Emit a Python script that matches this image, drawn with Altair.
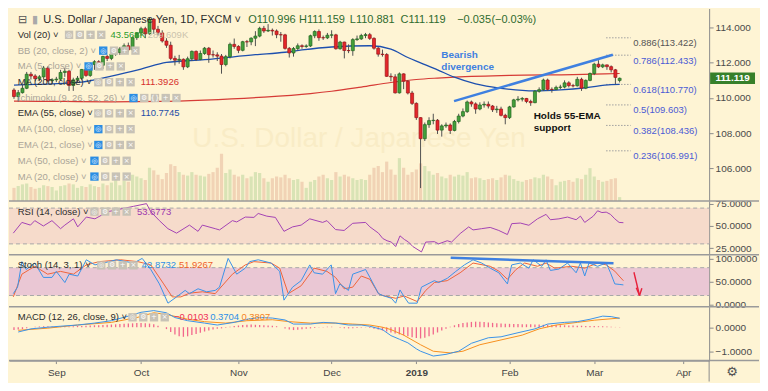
import altair as alt
import pandas as pd

# ------------------------------------------------------------------ data (daily bars, index 0 = 20 Aug 2018)
OPEN = [110.45, 110.08, 110.30, 110.55, 111.35, 111.25, 111.10, 111.20, 111.70, 110.98,
        111.03, 111.07, 111.45, 111.52, 110.71, 111.03, 111.12, 111.62, 111.28, 111.91,
        112.06, 111.86, 112.36, 112.25, 112.50, 112.58, 112.79, 112.97, 112.74, 113.43,
        113.70, 113.94, 113.65, 114.48, 113.91, 113.70, 113.24, 113.00, 112.25, 112.15,
        112.20, 111.77, 112.23, 112.65, 112.19, 112.53, 112.83, 112.46, 112.45, 112.38,
        111.90, 112.35, 113.05, 112.93, 112.71, 113.20, 113.19, 113.40, 113.52, 113.96,
        113.81, 113.85, 113.81, 113.60, 113.59, 112.82, 112.56, 112.81, 112.97, 112.93,
        112.96, 113.54, 113.78, 113.43, 113.42, 113.57, 113.59, 112.80, 113.18, 112.70,
        112.69, 113.32, 113.36, 113.55, 113.60, 113.39, 112.83, 112.49, 112.47, 111.23,
        111.20, 110.29, 111.37, 110.95, 110.28, 109.69, 108.88, 107.68, 108.48, 108.71,
        108.73, 108.17, 108.41, 108.46, 108.15, 108.66, 108.97, 109.22, 109.77, 109.66,
        109.37, 109.60, 109.64, 109.54, 109.33, 109.37, 109.01, 108.88, 109.49, 109.89,
        109.93, 109.97, 109.80, 109.73, 110.38, 110.47, 111.02, 110.49, 110.48, 110.60,
        110.62, 110.86, 110.70, 110.69, 111.06, 110.56, 111.00, 111.39, 111.92, 111.77,
        111.88, 111.78, 111.60, 110.996]
HIGH = [110.55, 110.45, 110.75, 111.48, 111.48, 111.35, 111.30, 111.82, 111.80, 111.12,
        111.20, 111.60, 111.70, 111.60, 111.15, 111.25, 111.65, 111.80, 112.00, 112.15,
        112.15, 112.40, 112.45, 112.60, 112.85, 112.90, 113.10, 113.15, 113.50, 113.75,
        114.05, 114.05, 114.55, 114.55, 114.10, 113.85, 113.40, 113.20, 112.40, 112.45,
        112.25, 112.35, 112.70, 112.70, 112.70, 112.90, 112.90, 112.70, 112.60, 112.50,
        112.45, 113.15, 113.38, 113.00, 113.25, 113.30, 113.45, 113.80, 114.05, 114.10,
        114.20, 113.95, 113.90, 113.75, 113.65, 112.90, 112.90, 113.10, 113.05, 113.05,
        113.60, 113.85, 113.90, 113.55, 113.70, 113.85, 113.65, 113.25, 113.20, 113.05,
        113.40, 113.55, 113.65, 113.70, 113.70, 113.45, 112.90, 112.75, 112.55, 111.40,
        111.35, 111.45, 111.40, 111.00, 110.40, 109.75, 108.90, 108.60, 108.90, 109.10,
        108.80, 108.50, 108.60, 108.55, 108.75, 109.10, 109.40, 109.85, 109.85, 109.75,
        109.75, 109.80, 109.80, 109.60, 109.55, 109.50, 109.10, 109.55, 109.95, 110.10,
        110.05, 110.00, 109.90, 110.45, 110.60, 111.10, 111.10, 110.60, 110.70, 110.75,
        111.00, 110.95, 110.80, 111.20, 111.15, 111.05, 111.45, 112.00, 112.15, 111.95,
        111.90, 111.85, 111.65, 111.159]
LOW = [109.95, 109.80, 110.25, 110.50, 111.05, 110.95, 110.95, 111.05, 110.90, 110.80,
       110.90, 111.00, 111.20, 110.40, 110.40, 110.85, 111.00, 111.20, 111.20, 111.60,
       111.70, 111.65, 112.10, 112.15, 112.40, 112.45, 112.70, 112.60, 112.60, 113.30,
       113.55, 113.40, 113.60, 113.65, 113.55, 113.15, 112.85, 112.15, 111.85, 111.95,
       111.60, 111.70, 112.10, 112.10, 112.15, 112.45, 112.00, 112.30, 112.10, 111.38,
       111.80, 112.25, 112.80, 112.55, 112.65, 112.90, 113.00, 112.95, 113.45, 113.70,
       113.75, 113.55, 113.40, 113.20, 112.75, 112.30, 112.35, 112.70, 112.80, 112.85,
       112.90, 113.40, 113.25, 113.30, 113.35, 113.40, 112.75, 112.75, 112.25, 112.55,
       112.40, 113.25, 113.30, 113.40, 113.30, 112.75, 112.35, 112.35, 111.20, 110.95,
       110.25, 110.25, 110.50, 110.20, 109.60, 108.75, 104.87, 107.55, 108.30, 108.50,
       107.95, 107.80, 108.30, 107.95, 108.10, 108.55, 108.90, 109.15, 109.50, 109.10,
       109.30, 109.45, 109.40, 109.20, 109.15, 108.95, 108.50, 108.80, 109.45, 109.80,
       109.80, 109.70, 109.55, 109.70, 110.30, 110.40, 110.40, 110.30, 110.45, 110.50,
       110.55, 110.60, 110.60, 110.65, 110.40, 110.50, 110.95, 111.30, 111.70, 111.70,
       111.60, 111.45, 110.78, 110.881]
CLOSE = OPEN[1:] + [111.119]
CLOSE[-2] = 111.17

VOLUME_K = [150, 170, 190, 200, 160, 140, 150, 180, 170, 160,
            120, 170, 180, 200, 190, 150, 170, 160, 190, 170,
            160, 200, 180, 210, 260, 180, 230, 220, 300, 280,
            260, 240, 380, 350, 300, 250, 320, 420, 400, 330,
            300, 290, 330, 300, 290, 280, 310, 330, 380, 540,
            320, 360, 300, 280, 300, 260, 280, 330, 320, 260,
            220, 260, 280, 270, 300, 260, 240, 250, 220, 150,
            220, 240, 280, 300, 260, 240, 330, 280, 300, 280,
            260, 240, 250, 240, 300, 380, 400, 330, 450, 360,
            300, 490, 380, 300, 330, 360, 430, 400, 340, 300,
            320, 280, 260, 300, 280, 300, 290, 330, 260, 270,
            260, 240, 250, 260, 240, 270, 300, 290, 250, 230,
            220, 240, 250, 270, 260, 300, 280, 250, 180, 220,
            230, 240, 220, 260, 250, 300, 375, 280, 240, 220,
            230, 250, 260, 44]

MONTH_IDX = [10, 30, 53, 75, 95, 117, 137, 158]
MONTH_LBL = ["Sep", "Oct", "Nov", "Dec", "2019", "Feb", "Mar", "Apr"]

EMA55_IDX = [0, 5, 16, 23, 30, 36, 45, 57, 64, 68, 75, 84, 89, 93, 96, 100, 104, 109, 115, 123, 129, 135, 141, 143]
EMA55_VAL = [110.73, 110.77, 110.90, 111.24, 111.64, 112.02, 112.18, 112.46, 112.60, 112.73, 112.90, 112.97,
             112.78, 112.30, 112.00, 111.60, 111.18, 110.80, 110.55, 110.40, 110.46, 110.58, 110.76, 110.77]
MA200_IDX = [0, 12, 23, 34, 45, 59, 70, 75, 82, 89, 95, 100, 104, 117, 132, 143]
MA200_VAL = [109.82, 109.80, 109.78, 109.80, 109.88, 110.05, 110.25, 110.38, 110.62, 110.88, 111.05,
             111.13, 111.18, 111.28, 111.33, 111.39]

FIB_RATIO = ["0.886", "0.786", "0.618", "0.5", "0.382", "0.236"]
FIB_PRICE = [113.422, 112.433, 110.770, 109.603, 108.436, 106.991]

TREND_IDX = [103.9, 141.4]
TREND_PRICE = [109.82, 112.46]

RSI_IDX = [1, 3, 5, 6, 8, 10, 12, 13, 15, 16, 18, 20, 23, 25, 27, 29, 32, 33, 35, 37, 39, 42, 44, 45, 48,
           49, 52, 53, 55, 57, 58, 60, 62, 64, 66, 68, 70, 73, 74, 76, 78, 80, 83, 84, 86, 87, 88, 89, 90,
           91, 92, 93, 94, 96, 97, 99, 100, 102, 103, 105, 107, 108, 110, 112, 114, 116, 117, 119, 121,
           123, 125, 126, 128, 130, 132, 133, 134, 136, 137, 138, 139, 140, 141, 142, 143]
RSI_VAL = [42, 54, 51, 56, 50, 56, 47, 51, 58, 49, 60, 58, 66, 68, 70, 72, 75, 66, 56, 47, 42, 51, 44, 51, 47,
           45.6, 56, 54.5, 60, 59.6, 64, 61, 59.6, 44, 49, 51, 58, 54, 56, 46, 45, 53, 54, 49, 42, 36, 33.5,
           32, 27, 39, 35, 32, 27, 21, 32, 32.5, 30, 33.5, 32, 41.5, 49, 45.6, 47, 48.4, 45, 40.4, 52.6,
           53.3, 50.8, 58, 63, 57, 58, 60, 57, 61, 54, 61, 67, 65, 65.5, 63, 58, 54, 53.68]

STOCH_K_IDX = [1, 2, 3, 4, 6, 8, 10, 11, 13, 14, 16, 17, 18, 20, 22, 25, 29, 31, 33, 35, 37, 39, 41, 42, 44,
               46, 48, 49, 51, 53, 55, 56, 58, 61, 63, 64, 66, 68, 70, 71, 73, 75, 76, 77, 79, 80, 83, 84,
               86, 87, 89, 90, 91, 92, 93, 95, 96, 99, 100, 102, 104, 106, 108, 110, 112, 114, 116, 117,
               119, 121, 122, 124, 125, 126, 128, 130, 132, 133, 134, 135, 137, 139, 140, 141, 142, 143]
STOCH_K_VAL = [24, 38, 93, 76, 90, 59, 59, 72, 48, 66, 62, 79, 97, 86, 90, 97, 90, 100, 76, 45, 3.5, 17, 31,
               24, 34.5, 28, 31, 38, 100, 66, 79, 93, 97, 90, 72, 10, 38, 52, 86, 69, 66, 86, 24, 45, 31,
               66, 76, 59, 24, 20, 14, 3.5, 32, 17, 3.5, 3.5, 38, 52, 48, 57, 72, 86, 97, 90, 79, 69, 45,
               86, 90, 79, 97, 83, 97, 74, 77, 90, 69, 90, 62, 90, 83, 90, 69, 45, 44, 42.87]
STOCH_D_IDX = [1, 3, 6, 9, 12, 15, 18, 21, 26, 30, 33, 36, 38, 40, 42, 45, 48, 52, 55, 57, 61, 63, 65, 68,
               71, 74, 76, 78, 80, 82, 84, 86, 87, 90, 92, 95, 97, 99, 102, 105, 108, 112, 114, 116, 118,
               120, 123, 125, 127, 131, 134, 137, 139, 141, 142, 143]
STOCH_D_VAL = [17, 66, 83, 66, 72, 66, 86, 93, 97, 93, 86, 45, 17, 17, 25, 28, 24, 66, 86, 93, 90, 79, 24,
               41, 79, 72, 59, 34.5, 38, 62, 55, 24, 20, 14, 19, 7, 31, 48, 52, 69, 90, 83, 72.5, 55, 76,
               90, 83, 90, 79, 83, 79, 90, 86, 72.5, 62, 51.93]
STOCH_TREND_IDX = [102.8, 140.7]
STOCH_TREND_VAL = [101.4, 89.7]

MACD_IDX = [1, 4, 8, 11, 15, 19, 23, 27, 30, 33, 36, 38, 41, 45, 48, 52, 55, 58, 61, 64, 66, 70, 73, 76,
            79, 82, 84, 87, 89, 91, 93, 95, 96, 99, 102, 105, 108, 112, 115, 119, 123, 126, 130, 133,
            136, 139, 141, 143]
MACD_VAL = [-0.2, -0.07, 0.0, 0.04, 0.09, 0.17, 0.27, 0.46, 0.62, 0.69, 0.6, 0.4, 0.27, 0.17, 0.09, 0.2,
            0.33, 0.4, 0.38, 0.3, 0.13, 0.13, 0.2, 0.17, 0.09, 0.09, 0.04, -0.1, -0.35, -0.5, -0.65,
            -0.9, -1.0, -1.2, -1.13, -1.0, -0.67, -0.44, -0.4, -0.23, -0.07, 0.13, 0.2, 0.23, 0.33,
            0.46, 0.44, 0.37]
SIGNAL_IDX = [1, 8, 15, 23, 29, 33, 36, 41, 45, 50, 55, 61, 65, 70, 76, 80, 84, 87, 89, 92, 96, 99, 103,
              106, 110, 115, 120, 124, 128, 133, 137, 143]
SIGNAL_VAL = [-0.13, -0.04, 0.09, 0.2, 0.4, 0.6, 0.53, 0.33, 0.23, 0.17, 0.27, 0.31, 0.23, 0.17, 0.17,
              0.13, 0.09, 0.0, -0.1, -0.33, -0.73, -1.0, -1.07, -1.0, -0.73, -0.53, -0.33, -0.07, 0.09,
              0.2, 0.29, 0.38]
HIST_VAL = [-0.12, -0.10, -0.08, -0.04, 0.0, 0.02, 0.03, 0.04, 0.04, 0.03, 0.03,
            0.03, 0.04, 0.03, 0.04, 0.05, 0.05, 0.06, 0.07, 0.08, 0.08,
            0.09, 0.10, 0.11, 0.12, 0.13, 0.14, 0.15, 0.16, 0.17, 0.17, 0.16, 0.15, 0.12,
            0.06, 0.0, -0.08,
            -0.2, -0.3, -0.38, -0.4, -0.38, -0.33, -0.28, -0.23, -0.18, -0.14, -0.1, -0.07,
            -0.05, -0.02, 0.02, 0.05,
            0.07, 0.09, 0.10, 0.11, 0.10, 0.09, 0.08, 0.07, 0.06, 0.04,
            0.0, -0.05, -0.10, -0.12, -0.11, -0.09, -0.07, -0.05, -0.03, -0.01,
            0.01, 0.02, 0.02, 0.0, -0.02,
            -0.04, -0.05, -0.04, -0.03, -0.02, -0.01,
            -0.03, -0.06, -0.10, -0.14, -0.18, -0.22, -0.26, -0.30, -0.34, -0.38, -0.42, -0.45,
            -0.47, -0.44, -0.38, -0.30, -0.22, -0.14, -0.06,
            0.02, 0.08, 0.13, 0.17, 0.20, 0.22, 0.23, 0.23,
            0.22, 0.20, 0.18, 0.16, 0.15, 0.14, 0.14, 0.13, 0.13, 0.12,
            0.12, 0.12, 0.11, 0.11, 0.10, 0.10, 0.09, 0.09, 0.08, 0.08,
            0.07, 0.07, 0.06, 0.06, 0.05, 0.05, 0.05, 0.04, 0.04, 0.03, 0.02, 0.01, -0.01]

RSI_LEVELS = [70, 30]
STOCH_LEVELS = [80, 20]

# ------------------------------------------------------------------ style / layout
BG = "#fef4d4"
WM_SMALL = "#f9ecc6"
FONT = "Liberation Sans"
UP, DN = "#43a03b", "#e5262a"
UP_EDGE, DN_EDGE = "#23651f", "#98161a"
WICK = "#505050"
VOL_UP, VOL_DN = "#d9e3b5", "#f1d3b5"
EMA_C, MA_C = "#1d4fae", "#d63b36"
RSI_C = "#a443b4"
K_C, D_C = "#3b93e8", "#f0643a"
MACD_C, SIG_C, HIST_C = "#3b93e8", "#f7901f", "#f2668c"
TXT, HID = "#2b2b2b", "#aaa498"
ICON, ICON_ON = "#c7c2b6", "#2b8de3"
SEP = "#9a9a9a"
AX = "#8c8c8c"
TREND_C = "#3f80e0"

W = 702
SX = W / 717.0
XMAX = 717 / 4.4
# pane: (top in reference px, reference height, our height)
PANES = {"p": (0, 201, 193), "r": (202, 56, 54), "s": (258, 54, 52), "m": (312, 56, 54)}
H_P, H_R, H_S, H_M = (PANES[k][2] for k in "prsm")


def px(xr):
    return xr * SX


def py(yr, pane):
    top, rh, h = PANES[pane]
    return (yr - top) * h / rh


xsc = alt.Scale(domain=[0, XMAX], nice=False, zero=False)
XI = alt.X("i:Q", scale=xsc, axis=None)


def yax(values, fmt):
    return alt.Axis(orient="right", values=values, format=fmt, title=None, grid=False,
                    tickSize=4, tickColor=AX, domainColor=AX, labelColor="#4a4a4a",
                    labelFont=FONT, labelFontSize=10, labelPadding=2,
                    labelOverlap=False, labelFlush=False)


def mk_y(dom, values, fmt):
    def f(field):
        return alt.Y(field, scale=alt.Scale(domain=dom, nice=False, zero=False),
                     axis=yax(values, fmt))
    return f


PY = mk_y([104.136, 115.09], [106, 108, 110, 112, 114], ".3f")
RY = mk_y([17.74, 77.96], [25, 50, 75], ".4f")
SY = mk_y([-4.14, 107.66], [0, 50, 100], ".4f")
MY = mk_y([-1.388, 0.852], [-1, 0], ".4f")

lab_expr = " : ".join(f"datum.value == {i} ? '{l}'" for i, l in zip(MONTH_IDX, MONTH_LBL)) + " : ''"
xaxis = alt.Axis(values=MONTH_IDX, labelExpr=lab_expr, title=None, grid=False, orient="bottom",
                 tickSize=3, tickColor=AX, domainColor=SEP, domainWidth=1.5, labelColor="#444444",
                 labelFont=FONT, labelFontSize=10, labelPadding=4, labelOverlap=False,
                 labelFlush=False,
                 labelFontWeight={"condition": {"test": f"datum.value == {MONTH_IDX[4]}",
                                                "value": "bold"}, "value": "normal"})
XM = alt.X("i:Q", scale=xsc, axis=xaxis)


def ui_text(rows, pane, size=9.5, weight="normal"):
    d = pd.DataFrame({"X": [px(r[0]) for r in rows], "Y": [py(r[1], pane) for r in rows],
                      "t": [r[2] for r in rows], "col": [r[3] for r in rows]})
    return alt.Chart(d).mark_text(align="left", baseline="middle", fontSize=size,
                                  fontWeight=weight, font=FONT).encode(
        x=alt.X("X:Q", scale=None, axis=None), y=alt.Y("Y:Q", scale=None, axis=None),
        text="t:N", color=alt.Color("col:N", scale=None, legend=None))


GLYPH4 = ["◎", "⚙", "+", "×"]
GLYPH5 = ["◎", "⚙", "{}", "+", "×"]


def ui_icons(specs, pane):
    rows = []
    for x0, y0, n, hidden in specs:
        g = GLYPH5 if n == 5 else GLYPH4
        for k in range(n):
            rows.append({"X": px(x0 + 4.5 + 11 * k), "Y": py(y0, pane),
                         "col": ICON_ON if (hidden and k == 0) else ICON, "g": g[k]})
    d = pd.DataFrame(rows)
    sq = alt.Chart(d).mark_square(size=70, opacity=1).encode(
        x=alt.X("X:Q", scale=None, axis=None), y=alt.Y("Y:Q", scale=None, axis=None),
        color=alt.Color("col:N", scale=None, legend=None))
    gl = alt.Chart(d).mark_text(fontSize=7, color="white", font="DejaVu Sans",
                                baseline="middle", align="center").encode(
        x=alt.X("X:Q", scale=None, axis=None), y=alt.Y("Y:Q", scale=None, axis=None),
        text="g:N")
    return [sq, gl]


def sep_rule(y):
    return alt.Chart(pd.DataFrame({"a": [0]})).mark_rule(color=SEP, strokeWidth=1.5).encode(
        x=alt.value(0), x2=alt.value(W + 50), y=alt.value(y))


# ------------------------------------------------------------------ price pane
df = pd.DataFrame({"i": list(range(len(CLOSE))), "o": OPEN, "h": HIGH, "l": LOW,
                   "c": CLOSE, "v": VOLUME_K})
up = alt.datum.c >= alt.datum.o

wm2 = alt.Chart(pd.DataFrame({"t": ["U.S. Dollar / Japanese Yen"]})).mark_text(
    fontSize=28, color=WM_SMALL, font=FONT, align="center", baseline="middle").encode(
    x=alt.value(W / 2), y=alt.value(py(136, "p")), text="t:N")

vol = alt.Chart(df).mark_bar(size=3.2).encode(
    x=XI, y=alt.Y("v:Q", scale=alt.Scale(domain=[0, 2200], nice=False), axis=None),
    color=alt.when(up).then(alt.value(VOL_UP)).otherwise(alt.value(VOL_DN)))

fib_df = pd.DataFrame({"p": FIB_PRICE, "x0": 139.8, "x1": 145.6, "xl": 146.2,
                       "t": [f"{r}({p:.3f})" for r, p in zip(FIB_RATIO, FIB_PRICE)],
                       "col": ["#555555" if r == "0.886" else "#4b5bd4" for r in FIB_RATIO]})
fib_rule = alt.Chart(fib_df).mark_rule(color="#a0a0a0", strokeDash=[1.5, 1.5], strokeWidth=1).encode(
    x=alt.X("x0:Q", scale=xsc, axis=None), x2="x1:Q", y=PY("p:Q"))
fib_txt = alt.Chart(fib_df).mark_text(align="left", baseline="middle", dy=5.5, fontSize=9.5,
                                      font=FONT).encode(
    x=alt.X("xl:Q", scale=xsc, axis=None), y=PY("p:Q"), text="t:N",
    color=alt.Color("col:N", scale=None, legend=None))

ma200 = alt.Chart(pd.DataFrame({"i": MA200_IDX, "y": MA200_VAL})).mark_line(
    color=MA_C, strokeWidth=1.2, interpolate="monotone").encode(x=XI, y=PY("y:Q"))
ema55 = alt.Chart(pd.DataFrame({"i": EMA55_IDX, "y": EMA55_VAL})).mark_line(
    color=EMA_C, strokeWidth=1.3, interpolate="monotone").encode(x=XI, y=PY("y:Q"))

wicks = alt.Chart(df).mark_rule(color=WICK, strokeWidth=1).encode(x=XI, y=PY("l:Q"), y2="h:Q")
bodies = alt.Chart(df).mark_bar(size=3, strokeWidth=0.7).encode(
    x=XI, y=PY("o:Q"), y2="c:Q",
    fill=alt.when(up).then(alt.value(UP)).otherwise(alt.value(DN)),
    stroke=alt.when(up).then(alt.value(UP_EDGE)).otherwise(alt.value(DN_EDGE)))

trend = alt.Chart(pd.DataFrame({"i": TREND_IDX, "p": TREND_PRICE})).mark_line(
    color=TREND_C, strokeWidth=2.5).encode(x=XI, y=PY("p:Q"))

bearish = alt.Chart(pd.DataFrame({"i": [100.9, 100.9], "p": [112.42, 111.74],
                                  "t": ["Bearish", "divergence"]})).mark_text(
    align="left", baseline="middle", fontSize=10, fontWeight="bold", color=TREND_C,
    font=FONT).encode(x=XI, y=PY("p:Q"), text="t:N")
holds = alt.Chart(pd.DataFrame({"i": [122.7, 122.7], "p": [108.97, 108.29],
                                "t": ["Holds 55-EMA", "support"]})).mark_text(
    align="left", baseline="middle", fontSize=10, fontWeight="bold", color="#111111",
    font=FONT).encode(x=XI, y=PY("p:Q"), text="t:N")

last = pd.DataFrame({"c": [CLOSE[-1]]})
box = alt.Chart(last).transform_calculate(t="datum.c + 0.33", b="datum.c - 0.33").mark_rect(
    color="#37802a").encode(x=alt.value(W + 1), x2=alt.value(W + 46), y=PY("t:Q"), y2="b:Q")
boxt = alt.Chart(last).mark_text(color="white", fontSize=10, fontWeight="bold", font=FONT,
                                 align="center", baseline="middle").encode(
    x=alt.value(W + 23.5), y=PY("c:Q"), text=alt.Text("c:Q", format=".3f"))

price_main = alt.layer(fib_rule, fib_txt, ma200, ema55, wicks, bodies, trend, bearish, holds,
                       box, boxt)

title_rows = [(35, 12, "U.S. Dollar / Japanese Yen, 1D, FXCM ˅", TXT)]
ohlc_rows = [(245, 12, "O110.996", "#2e6b2e"), (297, 12, "H111.159", "#2e6b2e"),
             (349, 12, "L110.881", "#2e6b2e"), (401, 12, "C111.119", "#2e6b2e"),
             (459, 12, "−0.035", "#2e6b2e"), (494, 12, "(−0.03%)", "#2e6b2e")]
glyph_rows = [(9, 12, "⊟", "#555555"), (24, 12, "▮", "#a9a9a9")]
leg_rows = [
    (9, 27.5, "Vol (20) ˅", TXT), (104, 27.5, "43.568K", "#2e9c2e"),
    (142, 27.5, "289.609K", "#cbc3ad"),
    (9, 44, "BB (20, close, 2) ˅", HID),
    (9, 60.5, "MA (5, close) ˅", HID),
    (9, 77, "MA (200, close) ˅", TXT), (135, 77, "111.3926", "#d6312c"),
    (9, 93.5, "Ichimoku (9, 26, 52, 26) ˅", HID),
    (9, 109.5, "EMA (55, close) ˅", TXT), (135, 109.5, "110.7745", "#1f4ea8"),
    (9, 126, "MA (100, close) ˅", HID),
    (9, 142.5, "EMA (21, close) ˅", HID),
    (9, 159, "MA (50, close) ˅", HID),
    (9, 175.5, "MA (20, close) ˅", HID),
]
icon_p = [(57, 27.5, 4, False), (92, 44, 4, True), (77, 60.5, 4, True), (87, 77, 4, False),
          (123, 93.5, 5, True), (87, 109.5, 4, False), (87, 126, 4, True), (87, 142.5, 4, True),
          (83, 159, 4, True), (83, 175.5, 4, True)]

price = alt.layer(
    wm2, vol, price_main,
    ui_text(title_rows, "p", size=11), ui_text(ohlc_rows, "p", size=11),
    ui_text(glyph_rows, "p", size=11), ui_text(leg_rows, "p"), *ui_icons(icon_p, "p"),
).resolve_scale(y="independent").properties(width=W, height=H_P)

# ------------------------------------------------------------------ RSI pane
rsi_band = alt.Chart(pd.DataFrame({"hi": [RSI_LEVELS[0]], "lo": [RSI_LEVELS[1]]})).mark_rect(
    color="#f6dbcb").encode(x=alt.value(0), x2=alt.value(W), y=RY("hi:Q"), y2="lo:Q")
rsi_lv = alt.Chart(pd.DataFrame({"y": RSI_LEVELS})).mark_rule(
    color="#a8a8a8", strokeDash=[4, 3]).encode(x=alt.value(0), x2=alt.value(W), y=RY("y:Q"))
rsi_line = alt.Chart(pd.DataFrame({"i": RSI_IDX, "y": RSI_VAL})).mark_line(
    color=RSI_C, strokeWidth=1).encode(x=XI, y=RY("y:Q"))
rsi = alt.layer(
    rsi_band, rsi_lv, rsi_line, sep_rule(0),
    ui_text([(9, 213, "RSI (14, close) ˅", TXT), (131, 213, "53.6773", "#9c36ad")], "r"),
    *ui_icons([(83, 213, 4, False)], "r"),
).properties(width=W, height=H_R)

# ------------------------------------------------------------------ Stoch pane
st_band = alt.Chart(pd.DataFrame({"hi": [STOCH_LEVELS[0]], "lo": [STOCH_LEVELS[1]]})).mark_rect(
    color="#eac7d4").encode(x=alt.value(0), x2=alt.value(W), y=SY("hi:Q"), y2="lo:Q")
st_lv = alt.Chart(pd.DataFrame({"y": STOCH_LEVELS})).mark_rule(
    color="#a8a8a8", strokeDash=[4, 3]).encode(x=alt.value(0), x2=alt.value(W), y=SY("y:Q"))
st_d = alt.Chart(pd.DataFrame({"i": STOCH_D_IDX, "y": STOCH_D_VAL})).mark_line(
    color=D_C, strokeWidth=1).encode(x=XI, y=SY("y:Q"))
st_k = alt.Chart(pd.DataFrame({"i": STOCH_K_IDX, "y": STOCH_K_VAL})).mark_line(
    color=K_C, strokeWidth=1).encode(x=XI, y=SY("y:Q"))
st_tr = alt.Chart(pd.DataFrame({"i": STOCH_TREND_IDX, "y": STOCH_TREND_VAL})).mark_line(
    color=TREND_C, strokeWidth=2.5).encode(x=XI, y=SY("y:Q"))
arrow = alt.Chart(pd.DataFrame({"i": [145.45, 146.0, 147.3], "y": [70.2, 36.6, 35.8],
                                "i2": [146.75, 146.75, 146.75], "y2": [20.1, 20.1, 20.1]})).mark_rule(
    color="#e8203a", strokeWidth=1.4).encode(x=XI, x2="i2:Q", y=SY("y:Q"), y2="y2:Q")
stoch = alt.layer(
    st_band, st_lv, st_d, st_k, st_tr, arrow, sep_rule(0),
    ui_text([(9, 269, "Stoch (14, 3, 1) ˅", TXT), (136, 269, "42.8732", "#2e8fe6"),
             (174, 269, "51.9267", "#f0612b")], "s"),
    *ui_icons([(90, 269, 4, False)], "s"),
).properties(width=W, height=H_S)

# ------------------------------------------------------------------ MACD pane
hist_df = pd.DataFrame({"i": list(range(len(HIST_VAL))), "h": HIST_VAL, "z": 0.0})
hist = alt.Chart(hist_df).mark_bar(size=1.3, color=HIST_C).encode(x=XM, y=MY("h:Q"), y2="z:Q")
macd_line = alt.Chart(pd.DataFrame({"i": MACD_IDX, "y": MACD_VAL})).mark_line(
    color=MACD_C, strokeWidth=1).encode(x=XM, y=MY("y:Q"))
sig_line = alt.Chart(pd.DataFrame({"i": SIGNAL_IDX, "y": SIGNAL_VAL})).mark_line(
    color=SIG_C, strokeWidth=1).encode(x=XM, y=MY("y:Q"))
vsep = alt.Chart(pd.DataFrame({"a": [0]})).mark_rule(color=AX, strokeWidth=1).encode(
    x=alt.value(W), y=alt.value(H_M), y2=alt.value(H_M + 21))
gear = alt.Chart(pd.DataFrame({"t": ["⚙"]})).mark_text(
    fontSize=13, color="#555555", font="DejaVu Sans", align="center", baseline="middle").encode(
    x=alt.value(W + 23), y=alt.value(H_M + 11), text="t:N")
macd = alt.layer(
    hist, sig_line, macd_line, sep_rule(0), sep_rule(H_M), vsep, gear,
    ui_text([(9, 323, "MACD (12, 26, close, 9) ˅", TXT), (169, 323, "−0.0103", "#ef3159"),
             (206, 323, "0.3704", "#2e8fe6"), (238, 323, "0.3807", "#f5861f")], "m"),
    *ui_icons([(122, 323, 4, False)], "m"),
).properties(width=W, height=H_M)

chart = alt.vconcat(price, rsi, stoch, macd, spacing=0, bounds="flush", padding=0).configure(
    background=BG).configure_view(stroke=None)

chart.save("out.html", embed_options={"renderer": "svg", "actions": False})
